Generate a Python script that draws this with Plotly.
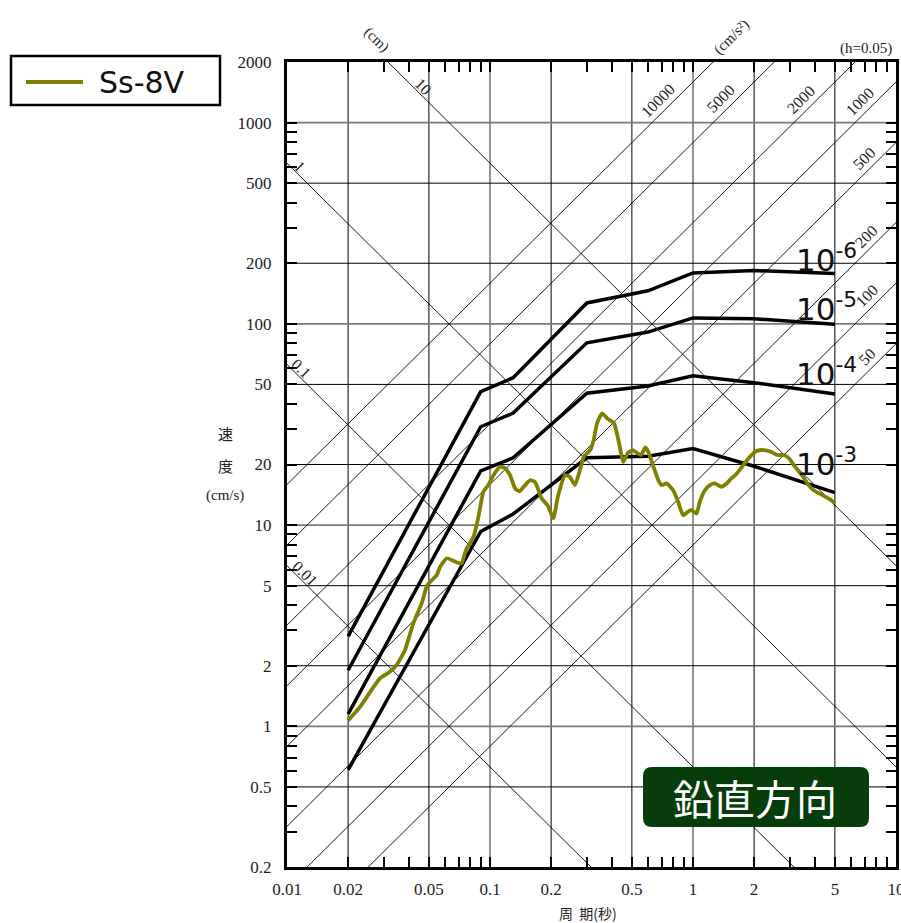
import math
import plotly.graph_objects as go

# ---------------- data ----------------
period_ticks = [0.01, 0.02, 0.05, 0.1, 0.2, 0.5, 1, 2, 5, 10]
period_tick_text = ["0.01", "0.02", "0.05", "0.1", "0.2", "0.5", "1", "2", "5", "10"]
period_minor = [0.03, 0.04, 0.06, 0.07, 0.08, 0.09, 0.3, 0.4, 0.6, 0.7, 0.8, 0.9,
                3, 4, 6, 7, 8, 9]
vel_ticks = [0.2, 0.5, 1, 2, 5, 10, 20, 50, 100, 200, 500, 1000, 2000]
vel_tick_text = ["0.2", "0.5", "1", "2", "5", "10", "20", "50", "100", "200", "500", "1000", "2000"]
vel_minor = [0.3, 0.4, 0.6, 0.7, 0.8, 0.9, 3, 4, 6, 7, 8, 9, 30, 40, 60, 70, 80, 90,
             300, 400, 600, 700, 800, 900]

grid_T_minor = [0.02, 0.05, 0.2, 0.5, 2, 5]
grid_T_decade = [0.1, 1]
grid_V_minor = [0.5, 2, 5, 20, 50, 200, 500]
grid_V_decade = [1, 10, 100, 1000]

disp_cm = [0.01, 0.1, 1, 10]
disp_labels = ["0.01", "0.1", "1", "10"]
disp_label_T = [0.0116, 0.0111, 0.01095, 0.0442]

acc_gal = [50, 100, 200, 500, 1000, 2000, 5000, 10000]
acc_labels = ["50", "100", "200", "500", "1000", "2000", "5000", "10000"]
acc_label_T = [7.46, 7.46, 7.37, 7.2, 6.88, 3.52, 1.42, 0.696]

prob_T = [0.02, 0.09, 0.13, 0.30, 0.60, 1.0, 2.0, 5.0]
v_1e6 = [2.8, 46.0, 54.0, 127.0, 146.0, 179.0, 184.0, 178.0]
v_1e5 = [1.9, 30.8, 36.0, 80.5, 91.0, 107.0, 106.0, 99.5]
v_1e4 = [1.15, 18.6, 21.6, 45.2, 49.1, 55.2, 51.0, 44.8]
v_1e3 = [0.607, 9.3, 11.35, 21.6, 22.0, 24.0, 19.6, 14.5]
prob_curves = [v_1e6, v_1e5, v_1e4, v_1e3]
prob_labels = ["10<sup>-6</sup>", "10<sup>-5</sup>", "10<sup>-4</sup>", "10<sup>-3</sup>"]

ss8v_T = [0.0200, 0.0229, 0.0287, 0.0322, 0.0347, 0.0381, 0.0419, 0.0461, 0.0491,
          0.0547, 0.0568, 0.0613, 0.0673, 0.0725, 0.0752, 0.0770, 0.0830, 0.0877,
          0.0929, 0.0981, 0.1040, 0.112, 0.1185, 0.1255, 0.133, 0.1395, 0.149,
          0.1575, 0.1665, 0.1796, 0.194, 0.205, 0.2169, 0.234, 0.248, 0.262,
          0.2775, 0.290, 0.312, 0.324, 0.337, 0.3565, 0.3777, 0.408, 0.4325,
          0.4527, 0.476, 0.5045, 0.5345, 0.555, 0.582, 0.604, 0.6385, 0.6755,
          0.7015, 0.742, 0.7985, 0.8445, 0.8935, 0.9455, 0.982, 1.04, 1.08,
          1.144, 1.21, 1.28, 1.382, 1.464, 1.55, 1.64, 1.77, 1.91, 2.07, 2.23,
          2.41, 2.6, 2.8, 2.98, 3.18, 3.44, 3.71, 3.93, 4.34, 4.80, 5.0]
ss8v_V = [1.07, 1.25, 1.73, 1.87, 2.02, 2.39, 3.25, 4.09, 5.04,
          5.65, 6.21, 6.84, 6.58, 6.45, 7.24, 7.7, 8.75, 11.0,
          14.7, 15.8, 17.7, 19.5, 19.2, 17.7, 15.2, 14.7, 15.8,
          16.7, 16.4, 13.6, 12.35, 10.8, 14.1, 17.7, 17.3, 15.8,
          18.8, 21.9, 23.6, 26.5, 32.1, 35.9, 33.9, 32.1, 25.5,
          20.6, 22.7, 23.6, 22.7, 22.3, 24.3, 23.0, 19.5, 16.7,
          15.8, 16.1, 14.9, 13.06, 11.2, 11.65, 11.9, 11.4, 13.06,
          14.9, 15.8, 16.1, 15.5, 16.1, 17.1, 18.0, 19.9, 21.9, 23.4, 23.6,
          23.2, 22.3, 22.3, 21.4, 19.5, 17.7, 15.8, 14.9, 14.1, 13.3, 12.8]

# ---------------- layout geometry (pixels) ----------------
W, H = 901, 923
L, R, T_, B = 287, 5, 62, 56
PW, PH = W - L - R, H - T_ - B


def px(x):
    return (x - L) / PW


def py(y):
    return (H - B - y) / PH


TMIN, TMAX = 0.01, 10
VMIN, VMAX = 0.2, 2000
SERIF = "Liberation Serif, DejaVu Serif, serif"
CJK = "Noto Sans CJK JP, sans-serif"
SANS = "DejaVu Sans, sans-serif"

fig = go.Figure()


def seg_trace(xs, ys, color, width):
    fig.add_trace(go.Scatter(x=xs, y=ys, mode="lines", hoverinfo="skip",
                             line=dict(color=color, width=width), showlegend=False))


# grid lines
for vals, col, w in [(grid_T_minor, "black", 1), (grid_T_decade, "#7a7a7a", 1.6)]:
    xs, ys = [], []
    for t in vals:
        xs += [t, t, None]
        ys += [VMIN, VMAX, None]
    seg_trace(xs, ys, col, w)
for vals, col, w in [(grid_V_minor, "black", 1), (grid_V_decade, "#7a7a7a", 1.6)]:
    xs, ys = [], []
    for v in vals:
        xs += [TMIN, TMAX, None]
        ys += [v, v, None]
    seg_trace(xs, ys, col, w)

# tripartite diagonals
ext = [1e-3, 1e2]
xs, ys = [], []
for d in disp_cm:
    xs += ext + [None]
    ys += [2 * math.pi * d / t for t in ext] + [None]
seg_trace(xs, ys, "black", 0.9)
xs, ys = [], []
for a in acc_gal:
    xs += ext + [None]
    ys += [a * t / (2 * math.pi) for t in ext] + [None]
seg_trace(xs, ys, "black", 0.9)

# probability curves
for vals in prob_curves:
    fig.add_trace(go.Scatter(x=prob_T, y=vals, mode="lines", showlegend=False,
                             line=dict(color="black", width=3.5)))

# Ss-8V
fig.add_trace(go.Scatter(x=ss8v_T, y=ss8v_V, mode="lines", name="Ss-8V", showlegend=False,
                         line=dict(color="#808000", width=3.8, shape="spline", smoothing=0.5)))

annotations = []
# diagonal labels
for d, lab, t in zip(disp_cm, disp_labels, disp_label_T):
    v = 2 * math.pi * d / t
    annotations.append(dict(x=math.log10(t), y=math.log10(v), xref="x", yref="y", text=lab,
                            showarrow=False, textangle=45, xshift=5, yshift=5,
                            xanchor="center", yanchor="middle",
                            font=dict(family=SERIF, size=16, color="#222")))
for a, lab, t in zip(acc_gal, acc_labels, acc_label_T):
    v = a * t / (2 * math.pi)
    annotations.append(dict(x=math.log10(t), y=math.log10(v), xref="x", yref="y", text=lab,
                            showarrow=False, textangle=-45, xshift=-3, yshift=13,
                            xanchor="center", yanchor="middle",
                            font=dict(family=SERIF, size=16, color="#222")))

# probability labels
prob_label_y = [258, 307, 372, 462]
for lab, yy in zip(prob_labels, prob_label_y):
    annotations.append(dict(x=px(794), y=py(yy), xref="paper", yref="paper", text=lab,
                            showarrow=False, xanchor="left", yanchor="middle",
                            font=dict(family=SANS, size=31, color="#111")))


def ptext(x, y, text, font, angle=0, xanchor="center"):
    return dict(x=px(x), y=py(y), xref="paper", yref="paper", text=text, showarrow=False,
                textangle=angle, xanchor=xanchor, yanchor="middle", font=font)


f_serif = dict(family=SERIF, size=15, color="#222")
annotations += [
    ptext(376, 40, "(cm)", f_serif, 45),
    ptext(731, 37, "(cm/s²)", f_serif, -45),
    ptext(894, 48, "(h=0.05)", f_serif, 0, "right"),
    ptext(225, 433, "速", dict(family=CJK, size=15, color="#222")),
    ptext(225, 465, "度", dict(family=CJK, size=15, color="#222")),
    ptext(225, 495, "(cm/s)", f_serif),
    ptext(588, 913, "周  期(秒)", dict(family=CJK, size=14, color="#222")),
    ptext(97, 82, "Ss-8V", dict(family=SANS, size=30, color="#111"), 0, "left"),
    ptext(755, 797, "鉛直方向", dict(family=CJK, size=41, color="white")),
]

# shapes: legend box, legend line, rounded direction box
x0, x1, y0, y1 = px(643), px(869), py(827), py(767)
rx, ry = 9 / PW, 9 / PH
box_path = (f"M {x0+rx},{y0} L {x1-rx},{y0} Q {x1},{y0} {x1},{y0+ry} "
            f"L {x1},{y1-ry} Q {x1},{y1} {x1-rx},{y1} L {x0+rx},{y1} "
            f"Q {x0},{y1} {x0},{y1-ry} L {x0},{y0+ry} Q {x0},{y0} {x0+rx},{y0} Z")
shapes = [
    dict(type="rect", xref="paper", yref="paper", x0=px(11), x1=px(220), y0=py(105), y1=py(56),
         line=dict(color="black", width=2.5), fillcolor="white"),
    dict(type="line", xref="paper", yref="paper", x0=px(26), x1=px(83), y0=py(82), y1=py(82),
         line=dict(color="#808000", width=4)),
    dict(type="path", xref="paper", yref="paper", path=box_path,
         fillcolor="#063d0a", line=dict(width=0)),
]

axis_common = dict(
    type="log", tickmode="array", showgrid=False, zeroline=False, automargin=False,
    showline=True, linecolor="black", linewidth=3, mirror="ticks",
    ticks="inside", ticklen=10, tickwidth=1.5, tickcolor="black",
    ticklabeloverflow="allow",
    tickfont=dict(family=SERIF, size=17, color="#222"),
)

fig.update_layout(
    width=W, height=H,
    margin=dict(l=L, r=R, t=T_, b=B, pad=0, autoexpand=False),
    paper_bgcolor="white", plot_bgcolor="white",
    showlegend=False,
    annotations=annotations,
    shapes=shapes,
    xaxis=dict(axis_common, range=[math.log10(TMIN), math.log10(TMAX)],
               tickvals=period_ticks, ticktext=period_tick_text,
               minor=dict(tickmode="array", tickvals=period_minor, ticks="inside",
                          ticklen=10, tickwidth=1.5, tickcolor="black", showgrid=False),
               ticklabelstandoff=5),
    yaxis=dict(axis_common, range=[math.log10(VMIN), math.log10(VMAX)],
               tickvals=vel_ticks, ticktext=vel_tick_text,
               minor=dict(tickmode="array", tickvals=vel_minor, ticks="inside",
                          ticklen=10, tickwidth=1.5, tickcolor="black", showgrid=False),
               ticklabelstandoff=9),
)

fig.write_html(
    "out.html",
    config={"displayModeBar": False},
    post_script="document.body.style.margin='0';document.body.style.padding='0';"
                "document.documentElement.style.overflow='hidden';",
)
